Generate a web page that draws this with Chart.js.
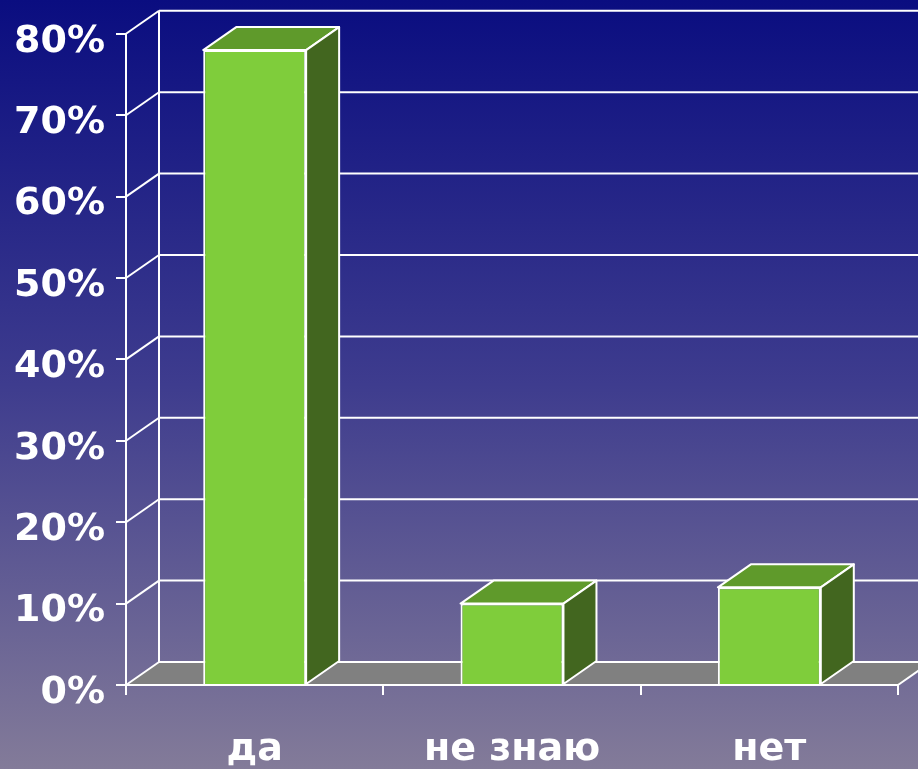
<!DOCTYPE html>
<html>
<head>
<meta charset="utf-8">
<script src="https://cdn.jsdelivr.net/npm/chart.js@4.4.1/dist/chart.umd.min.js"></script>
<style>
  html, body { margin: 0; padding: 0; background: #0a0d80; }
  #wrap { width: 918px; height: 769px; }
</style>
</head>
<body>
<div id="wrap"><canvas id="chart" width="918" height="769"></canvas></div>
<script>
const categories = ['да', 'не знаю', 'нет'];
const shares = [78, 10, 12];
const yMax = 80;
const yStep = 10;

// depth of the 3d box (back wall offset)
const DX = 33;
const DY = -23;

const frontColor = '#7fcd3b';
const topColor = '#5f9a2b';
const sideColor = '#42661f';
const floorColor = '#808080';

function line(ctx, x1, y1, x2, y2) {
  ctx.beginPath();
  ctx.moveTo(x1, y1);
  ctx.lineTo(x2, y2);
  ctx.stroke();
}

const box3d = {
  id: 'box3d',
  beforeDraw(chart) {
    const ctx = chart.ctx;
    const g = ctx.createLinearGradient(0, 0, 0, chart.height);
    g.addColorStop(0, '#0a0d80');
    g.addColorStop(0.5, '#3e3c8e');
    g.addColorStop(1, '#837b99');
    ctx.save();
    ctx.fillStyle = g;
    ctx.fillRect(0, 0, chart.width, chart.height);
    ctx.restore();
  },
  beforeDatasetsDraw(chart) {
    const ctx = chart.ctx;
    const { left, right, top, bottom } = chart.chartArea;
    const y = chart.scales.y;
    ctx.save();
    // floor
    ctx.fillStyle = floorColor;
    ctx.beginPath();
    ctx.moveTo(left, bottom);
    ctx.lineTo(right, bottom);
    ctx.lineTo(right + DX, bottom + DY);
    ctx.lineTo(left + DX, bottom + DY);
    ctx.closePath();
    ctx.fill();

    ctx.strokeStyle = '#ffffff';
    ctx.lineWidth = 2;
    // back wall gridlines and their left-side diagonals
    y.ticks.forEach(t => {
      const py = y.getPixelForValue(t.value);
      line(ctx, left, py, left + DX, py + DY);
      line(ctx, left + DX, py + DY, chart.width, py + DY);
    });
    line(ctx, left + DX, top + DY, left + DX, bottom + DY);
    // floor front and right edges
    line(ctx, left, bottom, right, bottom);
    line(ctx, right, bottom, right + DX, bottom + DY);
    ctx.restore();
  },
  afterDatasetsDraw(chart) {
    const ctx = chart.ctx;
    const meta = chart.getDatasetMeta(0);
    ctx.save();
    ctx.strokeStyle = '#ffffff';
    ctx.lineWidth = 2;
    ctx.lineJoin = 'round';
    meta.data.forEach(bar => {
      const { x, y, base, width } = bar.getProps(['x', 'y', 'base', 'width'], true);
      const l = x - width / 2;
      const r = x + width / 2;
      // top face
      ctx.fillStyle = topColor;
      ctx.beginPath();
      ctx.moveTo(l, y);
      ctx.lineTo(l + DX, y + DY);
      ctx.lineTo(r + DX, y + DY);
      ctx.lineTo(r, y);
      ctx.closePath();
      ctx.fill();
      ctx.stroke();
      // right side face
      ctx.fillStyle = sideColor;
      ctx.beginPath();
      ctx.moveTo(r, y);
      ctx.lineTo(r + DX, y + DY);
      ctx.lineTo(r + DX, base + DY);
      ctx.lineTo(r, base);
      ctx.closePath();
      ctx.fill();
      ctx.stroke();
    });
    ctx.restore();
  }
};

const labelFont = { family: 'DejaVu Sans', size: 38, weight: 'bold' };

new Chart(document.getElementById('chart'), {
  type: 'bar',
  data: {
    labels: categories,
    datasets: [{
      data: shares,
      backgroundColor: frontColor,
      borderColor: '#ffffff',
      borderWidth: 2,
      barPercentage: 0.4,
      categoryPercentage: 1
    }]
  },
  options: {
    responsive: false,
    animation: false,
    events: [],
    layout: { autoPadding: false, padding: { top: 33, right: 20, left: 0, bottom: 0 } },
    plugins: { legend: { display: false }, tooltip: { enabled: false } },
    scales: {
      x: {
        afterFit(scale) { scale.height = 84; },
        grid: { drawOnChartArea: false, tickLength: 10, color: '#ffffff', lineWidth: 2, offset: true },
        border: { color: '#ffffff', width: 2 },
        ticks: { color: '#ffffff', font: labelFont, padding: 32 }
      },
      y: {
        min: 0,
        max: yMax,
        afterFit(scale) { scale.width = 126; },
        grid: { drawOnChartArea: false, tickLength: 10, color: '#ffffff', lineWidth: 2 },
        border: { color: '#ffffff', width: 2 },
        ticks: {
          stepSize: yStep,
          color: '#ffffff',
          font: labelFont,
          padding: 11,
          labelOffset: 8,
          callback: v => v + '%'
        }
      }
    }
  },
  plugins: [box3d]
});
</script>
</body>
</html>
